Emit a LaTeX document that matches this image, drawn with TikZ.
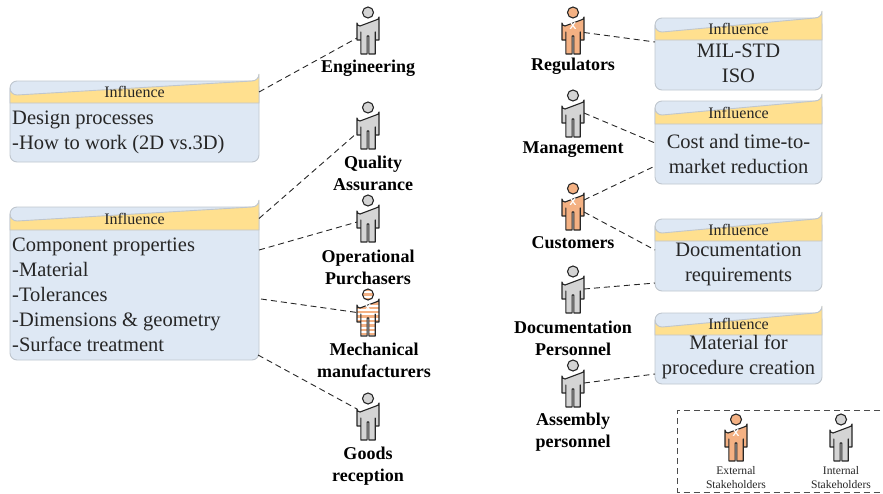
\documentclass[tikz,border=0pt]{standalone}
\usepackage{fontspec}
\setmainfont{Liberation Serif}
\usetikzlibrary{calc}
\definecolor{headcol}{HTML}{FFE08F}
\definecolor{bodycol}{HTML}{DEE8F4}
\definecolor{framecol}{HTML}{BFC6CE}
\definecolor{extcol}{HTML}{F4B183}
\definecolor{intcol}{HTML}{D4D4D4}
\definecolor{stripecol}{HTML}{FBE5D6}
\tikzset{
  framebox/.style={draw=framecol,fill=bodycol,line width=0.9pt,rounded corners=7pt,inner sep=0pt,outer sep=0pt},
  headtext/.style={inner sep=0pt,outer sep=0pt,font=\fontsize{16}{18}\selectfont,text=black!85},
  bodytext/.style={inner sep=0pt,font=\fontsize{20.5}{25}\selectfont,text=black!85},
  who/.style={inner sep=0pt,font=\bfseries\fontsize{18}{22}\selectfont,align=center},
  legendtext/.style={inner sep=0pt,font=\fontsize{11.6}{13.5}\selectfont,align=center,text=black!85},
  personbox/.style={inner sep=0pt,outer sep=0pt,minimum width=22pt,minimum height=47pt},
  personline/.style={draw=black!85,line width=1.1pt,line join=round},
  link/.style={draw=black!85,line width=0.9pt,dash pattern=on 6pt off 4pt}
}
\newcommand{\bodypath}{(-11,16) arc[start angle=180,end angle=90,radius=3] -- (8,13) arc[start angle=90,end angle=0,radius=3] -- (11,33) -- (7.2,33) -- (7.2,25) -- (7.2,47) -- (0.9,47) -- (0.9,29) -- (-0.9,29) -- (-0.9,47) -- (-7.2,47) -- (-7.2,25) -- (-7.2,33) -- (-11,33) -- cycle}
\newcommand{\personshape}[2]{%
  \filldraw[personline,fill=#1] (0,5.5) circle[radius=5.5];
  \filldraw[personline,fill=#1] \bodypath;
  #2}
\newcommand{\xmark}{\node[inner sep=0pt,text=white,font=\sffamily\bfseries\fontsize{10}{10}\selectfont] at (0,19) {X};}
\newcommand{\person}[4]{%
  \node[personbox] (#1) at (#2,#3+23.5) {};
  \begin{scope}[shift={(#2,#3)}]\personshape{#4}{}\end{scope}}
\newcommand{\extperson}[3]{%
  \node[personbox] (#1) at (#2,#3+23.5) {};
  \begin{scope}[shift={(#2,#3)}]\personshape{extcol}{\xmark}\end{scope}}
\newcommand{\stripeperson}[3]{%
  \node[personbox] (#1) at (#2,#3+23.5) {};
  \begin{scope}[shift={(#2,#3)}]
    \fill[white] (0,5.5) circle[radius=5.5];
    \fill[white] \bodypath;
    \begin{scope}
      \clip (-12,-1) rectangle (12,48);
      \clip (0,5.5) circle[radius=5.5] \bodypath;
      \foreach \yy in {0,4.4,...,48} {\fill[extcol] (-12,\yy) rectangle (12,\yy+2.4);}
    \end{scope}
    \draw[personline] (0,5.5) circle[radius=5.5];
    \draw[personline] \bodypath;
    \node[inner sep=0pt,text=white,font=\sffamily\bfseries\fontsize{10}{10}\selectfont] at (0,19) {X};
  \end{scope}}
% #1 name, #2 x1, #3 y1, #4 x2, #5 y2, #6 header bottom
\newcommand{\inflbox}[6]{%
  \node[framebox,minimum width=#4-#2,minimum height=#5-#3] (b#1) at ({(#2+#4)/2},{(#3+#5)/2}) {};
  \filldraw[draw=framecol,fill=headcol,line width=0.9pt] (#2,#6) -- (#2,#3+7) arc[start angle=180,end angle=90,radius=7] -- (#4-7,#3) arc[start angle=90,end angle=0,radius=7] -- (#4,#6) -- cycle;
  \node[headtext,minimum width=#4-#2,minimum height=#6-#3] (h#1) at ({(#2+#4)/2},{(#3+#6)/2}) {Influence};}
\begin{document}
\begin{tikzpicture}[x=1pt,y=-1pt]
\useasboundingbox (0,0) rectangle (883,493);
% boxes
\inflbox{A}{10}{81}{259}{162}{103}
\node[bodytext,align=left,anchor=west] (tA) at (12,132.5) {Design processes\\-How to work (2D vs.3D)};
\inflbox{B}{10}{207}{259}{360}{230}
\node[bodytext,align=left,anchor=west] (tB) at (12,294.5) {Component properties\\-Material\\-Tolerances\\-Dimensions \& geometry\\-Surface treatment};
\inflbox{C}{655}{18}{822}{90}{40}
\node[bodytext,align=center] (tC) at (738.5,63.5) {MIL-STD\\ISO};
\inflbox{D}{655}{101}{822}{184}{124}
\node[bodytext,align=center] (tD) at (738.5,154) {Cost and time-to-\\market reduction};
\inflbox{E}{655}{219}{822}{291}{241}
\node[bodytext,align=center] (tE) at (738.5,264.5) {Documentation\\requirements};
\inflbox{F}{655}{313}{822}{384}{335}
\node[bodytext,align=center] (tF) at (738.5,356.5) {Material for\\procedure creation};
% persons
\person{pEng}{368}{7}{intcol}
\person{pQA}{368}{102}{intcol}
\person{pOp}{368}{195}{intcol}
\stripeperson{pMech}{368}{289}
\person{pGoods}{368}{393}{intcol}
\extperson{pReg}{573}{7}
\person{pMan}{573}{90}{intcol}
\extperson{pCust}{573}{183}
\person{pDoc}{573}{266}{intcol}
\person{pAss}{573}{360}{intcol}
\extperson{pLegE}{736}{414}
\person{pLegI}{841}{414}{intcol}
% labels
\node[who] (lEng) at (368,68) {Engineering};
\node[who] (lQA) at (373,173) {Quality\\Assurance};
\node[who] (lOp) at (368,267) {Operational\\Purchasers};
\node[who] (lMech) at (374,360) {Mechanical\\manufacturers};
\node[who] (lGoods) at (368,466) {Goods\\reception};
\node[who] (lReg) at (573,66) {Regulators};
\node[who] (lMan) at (573,150) {Management};
\node[who] (lCust) at (573,243) {Customers};
\node[who] (lDoc) at (573,338) {Documentation\\Personnel};
\node[who] (lAss) at (573,432) {Assembly\\personnel};
% connectors
\draw[link] (hA.east) -- ($(pEng.west)+(0,7.5)$);
\draw[link] (hB.east) -- ($(pQA.west)+(0,7.5)$);
\draw[link] ($(bB.north east)+(0,43)$) -- ($(pOp.west)+(0,3.5)$);
\draw[link] ($(bB.north east)+(2,92)$) -- ($(pMech.west)+(0,0)$);
\draw[link] ($(bB.south east)+(-1,-5)$) -- ($(pGoods.west)+(0,-7.5)$);
\draw[link] ($(pReg.east)+(0,2)$) -- ($(bC.north west)+(0,24)$);
\draw[link] ($(pMan.east)+(0,-0.5)$) -- ($(bD.north west)+(0,42)$);
\draw[link] ($(pCust.east)+(0,-6.5)$) -- ($(bD.south west)+(0,-18)$);
\draw[link] ($(pCust.east)+(0,5.5)$) -- ($(bE.north west)+(0,31)$);
\draw[link] ($(pDoc.east)+(0,-0.5)$) -- ($(bE.south west)+(0,-8)$);
\draw[link] ($(pAss.east)+(0,-0.5)$) -- ($(bF.south west)+(0,-10)$);
% legend
\draw[link,draw=black!70] (890,410.5) -- (677.5,410.5) -- (677.5,492) -- (890,492);
\node[legendtext] (lLegE) at (736,477.5) {External\\Stakeholders};
\node[legendtext] (lLegI) at (841,477.5) {Internal\\Stakeholders};
\end{tikzpicture}
\end{document}
